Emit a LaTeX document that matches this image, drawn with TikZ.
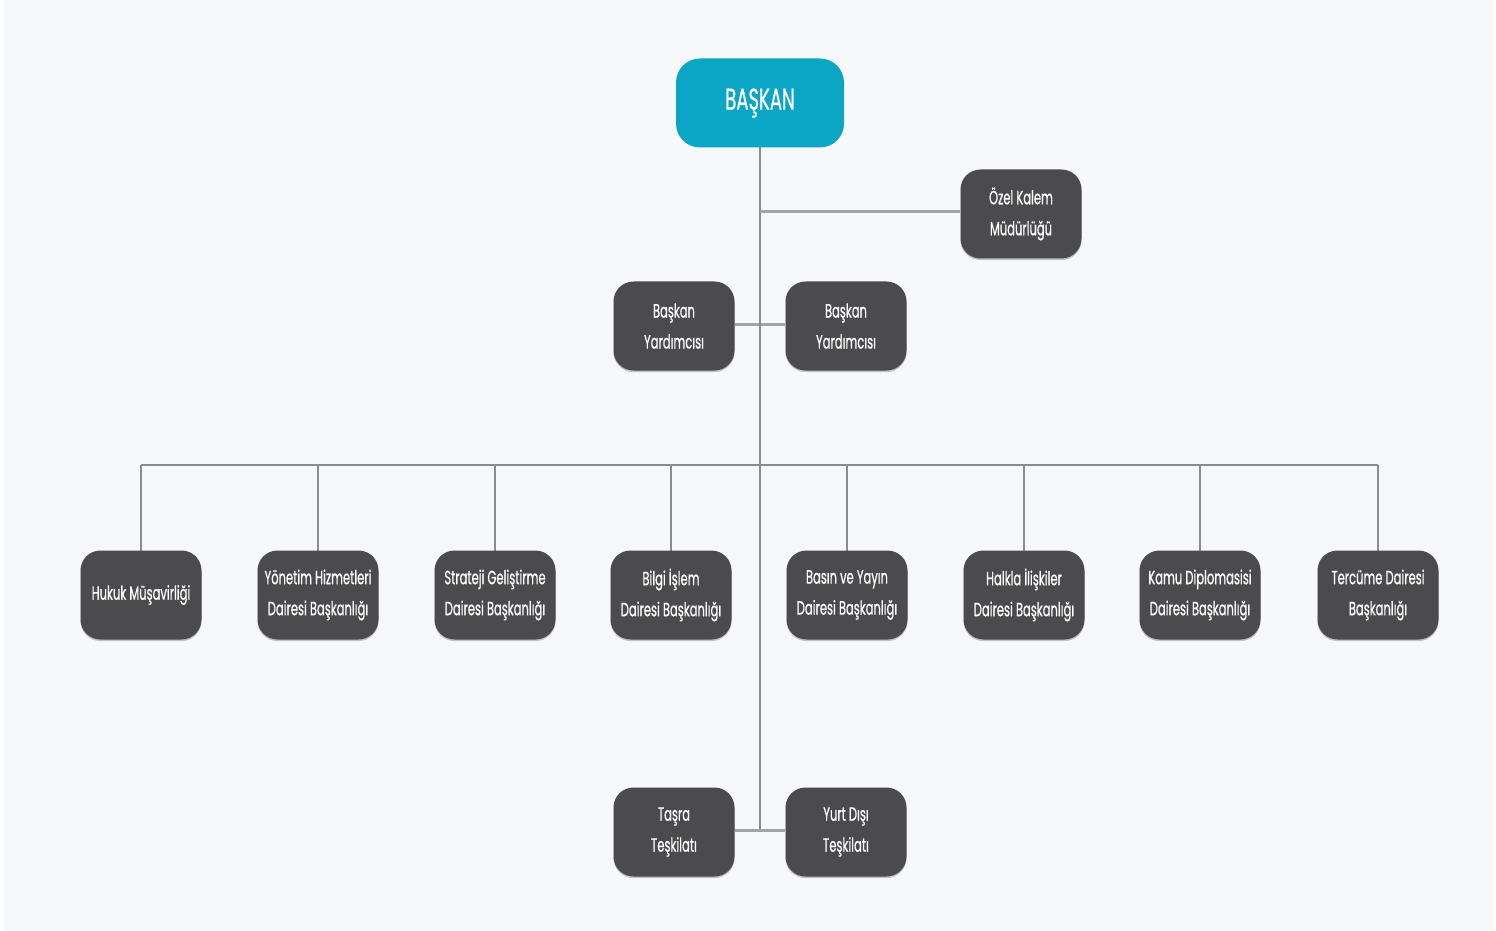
\documentclass[tikz,border=0pt]{standalone}
\usepackage{fontspec}
\setmainfont[FakeStretch=0.6,FakeBold=0.6]{Poppins}
\usetikzlibrary{shadows}
\definecolor{bgc}{HTML}{F7F8FA}
\definecolor{boxc}{HTML}{4B4B4D}
\definecolor{teal}{HTML}{0BA5C6}
\definecolor{linec}{HTML}{8C8C8C}
\definecolor{thickc}{HTML}{A3A3A3}
\tikzset{
  unitbox/.style={fill=boxc, rounded corners=10pt, minimum width=60.5pt, minimum height=44.5pt,
    inner sep=0pt, text=white, align=center, font=\fontsize{9.6}{15.5}\selectfont,
    drop shadow={shadow xshift=0pt, shadow yshift=-0.8pt, opacity=0.22, fill=black}},
  headbox/.style={fill=teal, rounded corners=12pt, minimum width=84pt, minimum height=44.5pt,
    inner sep=0pt, text=white, font=\fontsize{15}{18}\selectfont},
  trunk/.style={draw=linec, line width=0.8pt},
  link/.style={draw=thickc, line width=1.5pt},
}
\begin{document}
\begin{tikzpicture}[x=0.5pt,y=-0.5pt]
\fill[white] (0,0) rectangle (1496,931);
\fill[bgc] (4,0) rectangle (1494,931);
\useasboundingbox (0,0) rectangle (1496,931);
% coordinates
\coordinate (j1) at (760,212);
\coordinate (j2) at (760,324);
\coordinate (j3) at (760,465);
\coordinate (j4) at (760,830);
\coordinate (busL) at (141,465);
\coordinate (busR) at (1378,465);
% lines (behind nodes)
\path[trunk] (760,147) -- (j4);
\path[trunk] (busL) -- (busR);
\foreach \x in {141,318,495,671,847,1024,1200,1378} {
  \path[trunk] (\x,465) -- (\x,551);
}
% nodes
\node[headbox] (baskan) at (760,103) {BAŞKAN};
\node[unitbox] (ozel) at (1021,214) {Özel Kalem\\Müdürlüğü};
\node[unitbox] (by1) at (674,326) {Başkan\\Yardımcısı};
\node[unitbox] (by2) at (846,326) {Başkan\\Yardımcısı};
\node[unitbox] (hukuk) at (141,595) {Hukuk Müşavirliği};
\node[unitbox] (yon) at (318,595) {Yönetim Hizmetleri\\Dairesi Başkanlığı};
\node[unitbox] (str) at (495,595) {Strateji Geliştirme\\Dairesi Başkanlığı};
\node[unitbox] (bil) at (671,595) {Bilgi İşlem\\Dairesi Başkanlığı};
\node[unitbox] (bas) at (847,595) {Basın ve Yayın\\Dairesi Başkanlığı};
\node[unitbox] (hal) at (1024,595) {Halkla İlişkiler\\Dairesi Başkanlığı};
\node[unitbox] (kam) at (1200,595) {Kamu Diplomasisi\\Dairesi Başkanlığı};
\node[unitbox] (ter) at (1378,595) {Tercüme Dairesi\\Başkanlığı};
\node[unitbox] (tas) at (674,832) {Taşra\\Teşkilatı};
\node[unitbox] (yd) at (846,832) {Yurt Dışı\\Teşkilatı};
% links
\path[link] (j1) -- (ozel.west |- j1);
\path[link] (by1.east |- j2) -- (by2.west |- j2);
\path[link] (tas.east |- j4) -- (yd.west |- j4);
\path[trunk] (760,318) -- (760,330);
\end{tikzpicture}
\end{document}
